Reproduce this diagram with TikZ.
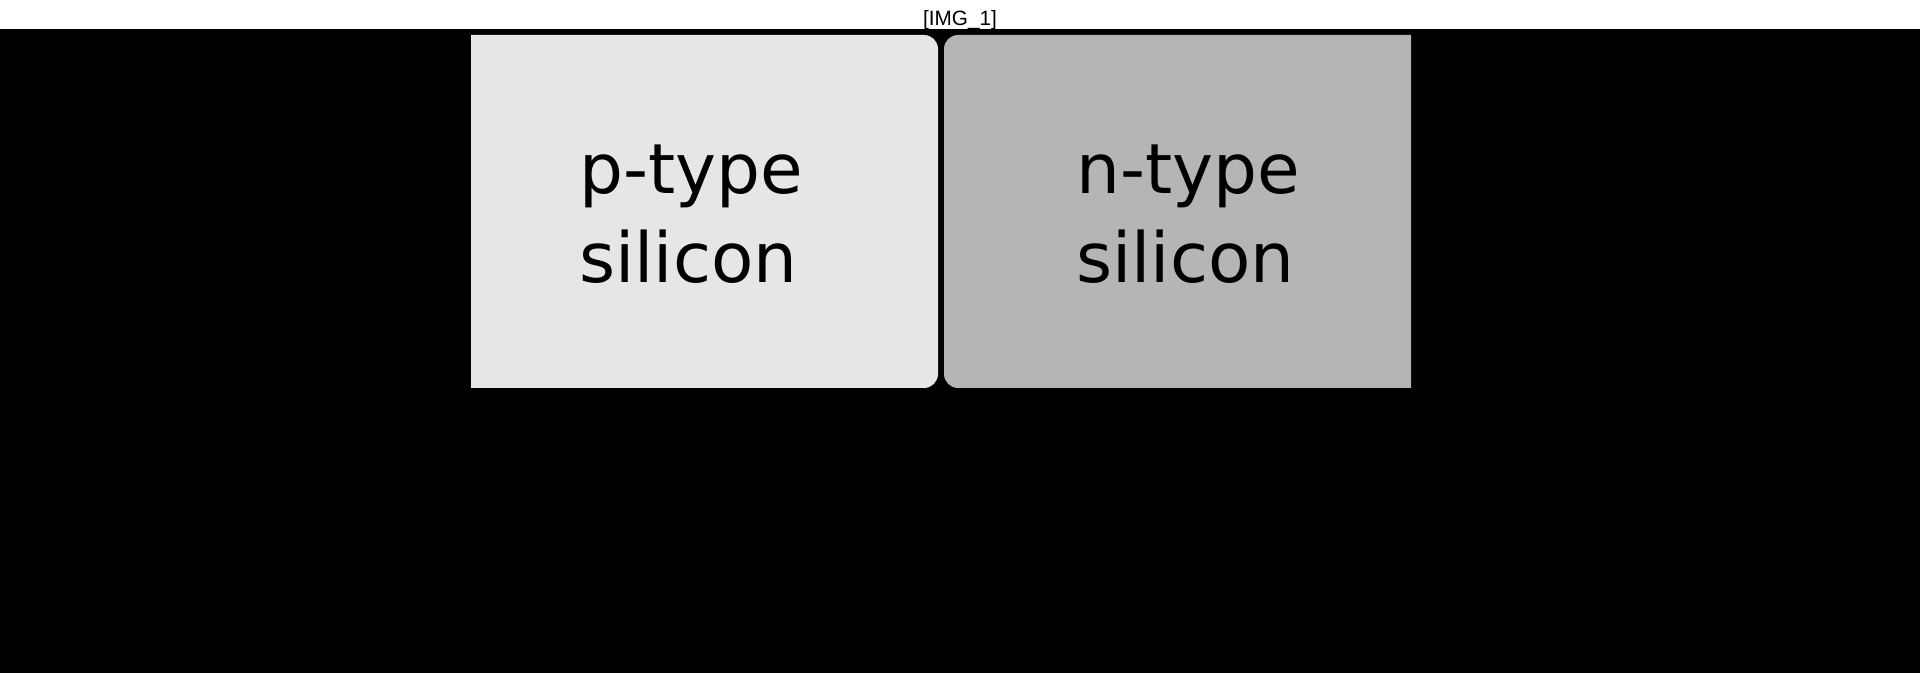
\documentclass[tikz,border=0pt]{standalone}
\usepackage{fontspec}
\setmainfont{DejaVu Sans}
\newfontfamily\captionfont{Liberation Sans}
\usetikzlibrary{calc}
\definecolor{PTypeClr}{HTML}{E6E6E6}
\definecolor{NTypeClr}{HTML}{B5B5B5}

\begin{document}
\begin{tikzpicture}[
  siliconlabel/.style={font=\fontsize{19.7}{25.4}\selectfont,align=left,inner sep=0pt},
  tagtext/.style={font=\captionfont\fontsize{5.9}{7}\selectfont,inner sep=0pt}]
\useasboundingbox (0,0) rectangle (19.2,6.73);
\fill[white] (0,6.44) rectangle (19.2,6.73);
\fill[black] (0,0) rectangle (19.2,6.44);

\coordinate (P1) at (4.71,2.85);
\coordinate (P2) at (9.38,6.38);
\coordinate (N1) at (9.44,2.85);
\coordinate (N2) at (14.11,6.38);

% p-type slab, round corners only at the junction side
\fill[PTypeClr] (P1) -- (P1|-P2) [rounded corners=1.4mm] -- (P2) -- (P2|-P1) [sharp corners] -- cycle;
% n-type slab
\fill[NTypeClr] (N2) -- (N2|-N1) [rounded corners=1.4mm] -- (N1) -- (N1|-N2) [sharp corners] -- cycle;

\node[siliconlabel] (ptype) at (6.91,4.59) {p-type\\silicon};
\node[siliconlabel] (ntype) at (11.88,4.59) {n-type\\silicon};

\node[tagtext,anchor=base] (tag) at (9.6,6.47) {[IMG\_1]};

\end{tikzpicture}
\end{document}
